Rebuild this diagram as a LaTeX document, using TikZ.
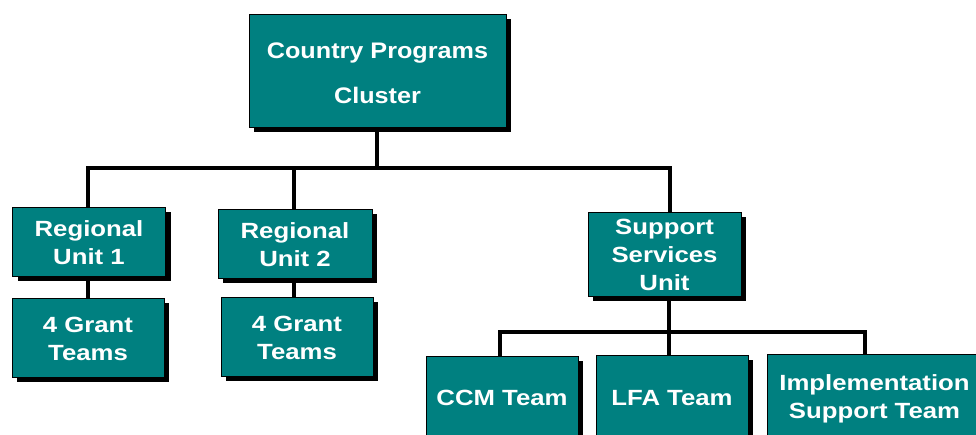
\documentclass[tikz,border=0pt]{standalone}
\usepackage{fontspec}
\setmainfont{Liberation Sans}
\usetikzlibrary{shadows}
\definecolor{boxteal}{RGB}{0,128,128}
\newcommand{\bxt}[1]{\raisebox{-3pt}[\height][\depth]{\scalebox{1.17}[1]{\begin{tabular}{@{}c@{}}#1\end{tabular}}}}
\newcommand{\bxtop}[1]{\raisebox{-1pt}[\height][\depth]{\scalebox{1.12}[1]{\begin{tabular}{@{}c@{}}#1\end{tabular}}}}
\tikzset{
  orgbox/.style={draw=black, line width=1pt, fill=boxteal, text=white,
    font=\bfseries\fontsize{22}{28}\selectfont, inner sep=0pt, rectangle,
    drop shadow={shadow xshift=5pt, shadow yshift=-5pt, fill=black, opacity=1}},
  conn/.style={draw=black, line width=4.5pt, line join=miter, line cap=rect}
}
\begin{document}
\begin{tikzpicture}[x=1pt, y=-1pt]
\path[use as bounding box] (0,0) rectangle (976,434);
\clip (0,0) rectangle (976,434);
\fill[white] (0,0) rectangle (976,434);
% coordinates for bus lines
\coordinate (busA) at (377,168);
\coordinate (busB) at (669,332);
\coordinate (topb) at (377,127);
\coordinate (r1t) at (88,207);
\coordinate (r2t) at (294,209);
\coordinate (supt) at (670,213);
\coordinate (supb) at (669,295);
\coordinate (ccmt) at (500,356);
\coordinate (lfat) at (669,355);
\coordinate (impt) at (865,354);
\coordinate (r1b) at (88,276);
\coordinate (g1t) at (88,298);
\coordinate (r2b) at (294,278);
\coordinate (g2t) at (294,297);
% connectors (drawn first, boxes on top)
\draw[conn] (topb) -- (busA);
\draw[conn] (r1t) |- (busA) -| (supt);
\draw[conn] (r2t) -- (r2t |- busA);
\draw[conn] (r1b) -- (g1t);
\draw[conn] (r2b) -- (g2t);
\draw[conn] (supb) -- (busB);
\draw[conn] (ccmt) |- (busB) -| (impt);
\draw[conn] (busB) -- (lfat);
% boxes
\node[orgbox, minimum width=257pt, minimum height=113pt, font=\bfseries\fontsize{22.5}{45}\selectfont] (top) at (377.5,70.5) {\bxtop{Country Programs\\Cluster}};
\node[orgbox, minimum width=153pt, minimum height=69pt] (r1) at (89,241.5) {\bxt{Regional\\Unit 1}};
\node[orgbox, minimum width=154pt, minimum height=69pt] (r2) at (295,243.5) {\bxt{Regional\\Unit 2}};
\node[orgbox, minimum width=152pt, minimum height=79pt] (g1) at (88,337.5) {\bxt{4 Grant\\Teams}};
\node[orgbox, minimum width=152pt, minimum height=79pt] (g2) at (297,336.5) {\bxt{4 Grant\\Teams}};
\node[orgbox, minimum width=153pt, minimum height=82pt] (sup) at (664.5,254) {\bxt{Support\\Services\\Unit}};
\node[orgbox, minimum width=152pt, minimum height=82pt] (ccm) at (502,397) {\bxt{CCM Team}};
\node[orgbox, minimum width=152pt, minimum height=84pt] (lfa) at (672,397) {\bxt{LFA Team}};
\node[orgbox, minimum width=215pt, minimum height=84pt] (imp) at (874.5,396) {\bxt{Implementation\\Support Team}};
\end{tikzpicture}
\end{document}
